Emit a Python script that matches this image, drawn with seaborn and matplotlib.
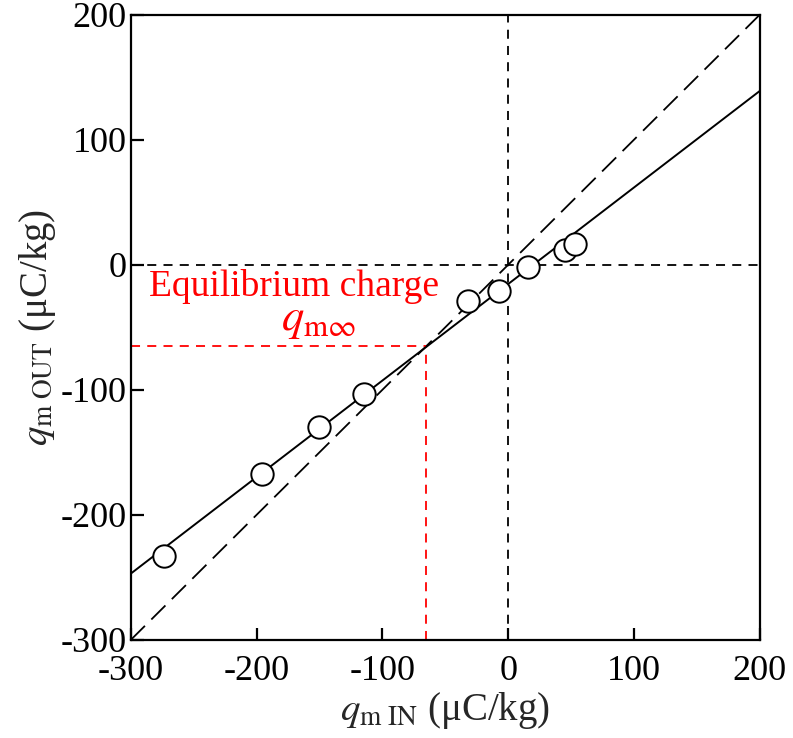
import matplotlib
matplotlib.use("Agg")
import matplotlib.pyplot as plt
import seaborn as sns
import pandas as pd

# Data
q_in = [-274, -196, -150, -115, -32, -7, 16, 45, 53]
q_out = [-233, -167, -130, -103, -29, -21, -2, 12, 17]
fit_x = [-300, 200]
fit_y = [-247, 139]
identity = [-300, 200]
q_eq = -65
x_ticks = [-300, -200, -100, 0, 100, 200]
y_ticks = [-300, -200, -100, 0, 100, 200]

sns.set_theme(style="white")
plt.rcParams['font.family'] = ['Liberation Serif', 'DejaVu Serif']
plt.rcParams['mathtext.fontset'] = 'stix'

fig = plt.figure(figsize=(7.93, 7.38), dpi=100)
ax = fig.add_axes([0.165, 0.133, 0.793, 0.847])

lo, hi = -300, 200
red = '#ff0000'

# zero lines
ax.plot([0, 0], [lo, hi], color='black', lw=1.3, dashes=(5, 4), zorder=1)
ax.plot([lo, hi], [0, 0], color='black', lw=1.3, dashes=(5, 4), zorder=1)
# y = x
ax.plot(identity, identity, color='black', lw=1.3, dashes=(11, 5), zorder=2)
# fit line
sns.lineplot(x=fit_x, y=fit_y, color='black', lw=1.4, ax=ax, zorder=3)
# equilibrium red lines
ax.plot([lo, q_eq], [q_eq, q_eq], color=red, lw=1.3, dashes=(5, 4), zorder=2)
ax.plot([q_eq, q_eq], [lo, q_eq], color=red, lw=1.3, dashes=(5, 4), zorder=2)

df = pd.DataFrame({'qin': q_in, 'qout': q_out})
sns.scatterplot(data=df, x='qin', y='qout', ax=ax, s=260, facecolor='white',
                edgecolor='black', linewidth=1.4, zorder=5)

ax.set_xlim(lo, hi)
ax.set_ylim(lo, hi)
ax.set_xticks(x_ticks)
ax.set_yticks(y_ticks)
ax.set_xticklabels([str(t) for t in x_ticks])
ax.set_yticklabels([str(t) for t in y_ticks])
ax.tick_params(direction='in', length=9, width=1.6, labelsize=26,
               bottom=True, left=True, top=False, right=False, colors='black')
ax.tick_params(axis='y', pad=3)
ax.tick_params(axis='x', pad=11)
for s in ax.spines.values():
    s.set_linewidth(1.6)
    s.set_color('black')

ax.set_xlabel(r'$q_{\mathrm{m\ IN}}$ (μC/kg)', fontsize=28, labelpad=1)
ax.set_ylabel(r'$q_{\mathrm{m\ OUT}}$ (μC/kg)', fontsize=28, labelpad=2)

ax.text(-170, -17, 'Equilibrium charge', color=red, fontsize=27,
        ha='center', va='center')
ax.text(-151, -45, r'$q_{\mathrm{m}\infty}$', color=red, fontsize=32,
        ha='center', va='center')

fig.savefig('out.png', dpi=100)
